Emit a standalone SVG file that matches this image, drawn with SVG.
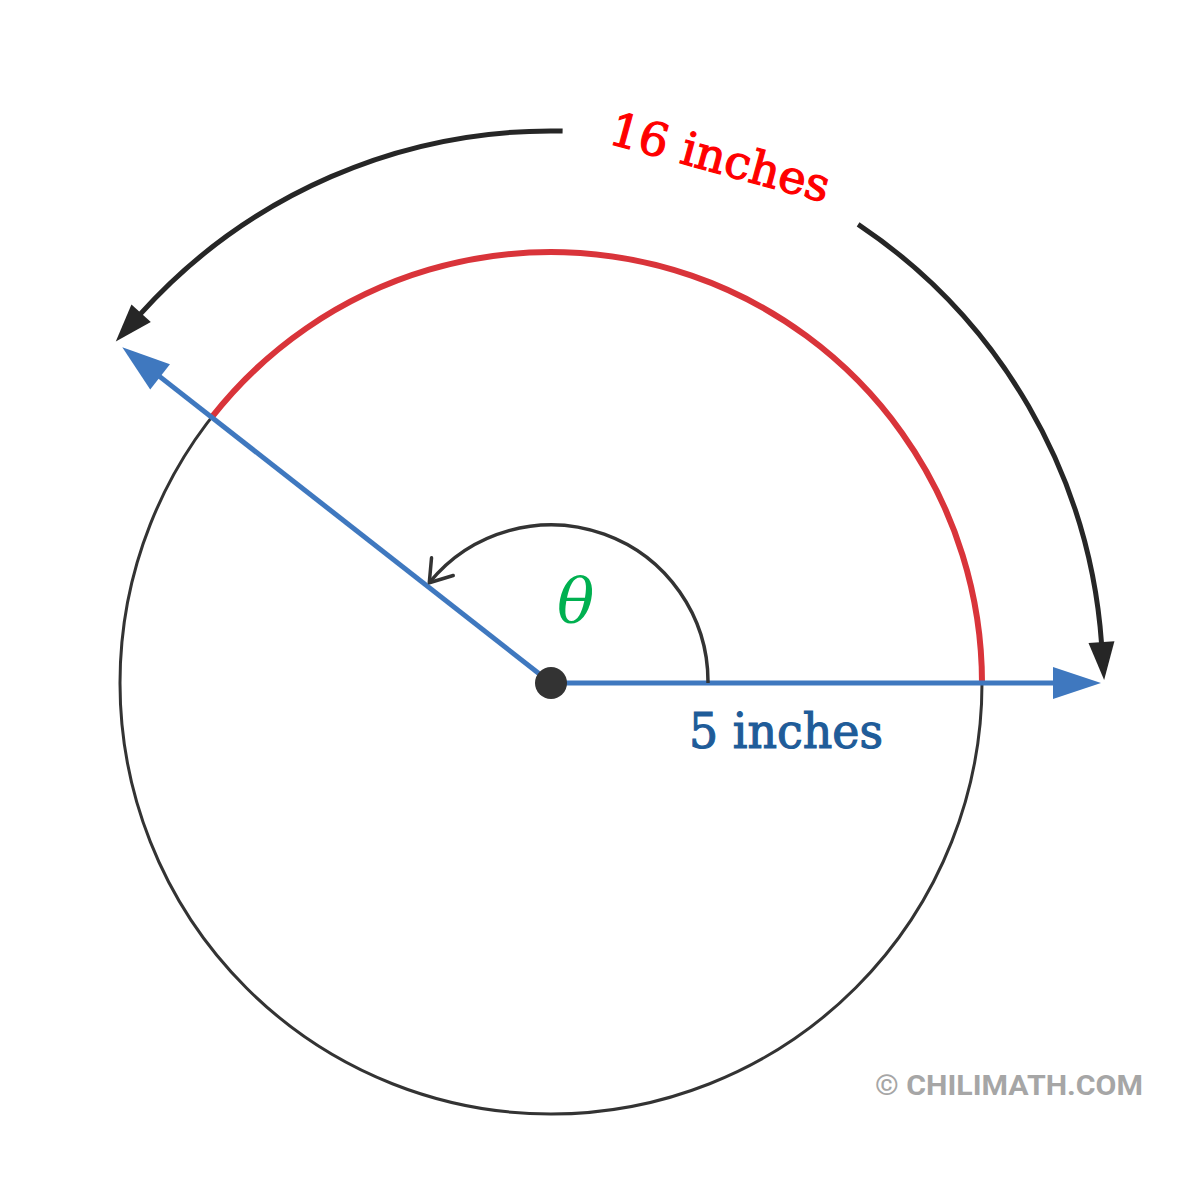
<svg xmlns="http://www.w3.org/2000/svg" width="1200" height="1200" viewBox="0 0 1200 1200">
<style>
.circle{fill:none;stroke:#333;stroke-width:3}
.red{fill:none;stroke:#d9343a;stroke-width:6}
.blue{fill:none;stroke:#3f78bf;stroke-width:5}
.black{fill:none;stroke:#262626;stroke-width:5}
.theta{fill:none;stroke:#333;stroke-width:3.5}
.serif{font-family:"DejaVu Serif","Liberation Serif",serif}
</style>
<defs>
<marker id="hb" markerUnits="userSpaceOnUse" markerWidth="60" markerHeight="40" refX="2" refY="20" orient="auto" viewBox="0 0 60 40" overflow="visible">
<path d="M0,7 L38,20 L0,33 Z" fill="#262626"/>
</marker>
<marker id="hblue" markerUnits="userSpaceOnUse" markerWidth="60" markerHeight="40" refX="2" refY="20" orient="auto" viewBox="0 0 60 40" overflow="visible">
<path d="M0,4 L48,20 L0,36 Z" fill="#3f78bf"/>
</marker>
<marker id="hopen" markerUnits="userSpaceOnUse" markerWidth="40" markerHeight="40" refX="30" refY="20" orient="auto" viewBox="0 0 40 40" overflow="visible">
<path d="M9.3,6 L30,20 L9.3,34" fill="none" stroke="#333" stroke-width="3.5" stroke-linecap="round" stroke-linejoin="round"/>
</marker>
</defs>
<rect width="1200" height="1200" fill="#fff"/>
<g id="circle">
<circle class="circle" cx="551" cy="683" r="431"/>
</g>
<g id="arc-length">
<path class="red" d="M982,683 A431,431 0 0 0 211.8,417.2"/>
</g>
<g id="connectors">
<path class="black" d="M562.6,131.1 A552,552 0 0 0 139.8,314.7" marker-end="url(#hb)"/>
<path class="black" d="M858.1,224.3 A552,552 0 0 1 1101.6,644.1" marker-end="url(#hb)"/>
<path class="blue" d="M551,683 L1055,683" marker-end="url(#hblue)"/>
<path class="blue" d="M551,683 L158.5,375.6" marker-end="url(#hblue)"/>
<path class="theta" d="M708,683 A157,157 0 0 0 429.3,582.7" marker-end="url(#hopen)"/>
</g>
<g id="center">
<circle cx="551" cy="683" r="16" fill="#333"/>
</g>
<g id="labels">
<text class="serif" x="557" y="622" font-size="62" font-style="italic" fill="#00b050">θ</text>
<text class="serif" x="689" y="748" font-size="48" fill="#1f5c99" stroke="#1f5c99" stroke-width="1.2" textLength="194" lengthAdjust="spacingAndGlyphs">5 inches</text>
<text class="serif" transform="translate(607,143) rotate(15.3)" x="0" y="0" font-size="46" fill="#ff0000" stroke="#ff0000" stroke-width="1.2" textLength="226" lengthAdjust="spacingAndGlyphs">16 inches</text>
<text x="875" y="1095" font-family="Roboto,'Liberation Sans',sans-serif" font-weight="bold" font-size="28" fill="#a6a6a6" textLength="268" lengthAdjust="spacingAndGlyphs">© CHILIMATH.COM</text>
</g>
</svg>
